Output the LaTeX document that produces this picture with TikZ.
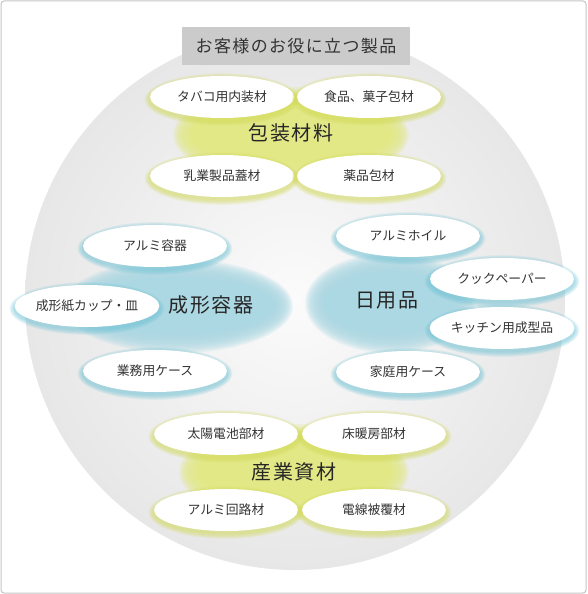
\documentclass[tikz,border=0pt]{standalone}
\usepackage{fontspec}
\newfontfamily\jp{Noto Sans CJK JP}
\newfontfamily\jpwide[LetterSpace=8]{Noto Sans CJK JP}
\usetikzlibrary{shapes.geometric}
\definecolor{framegray}{HTML}{C4C4C4}
\definecolor{titlegray}{HTML}{CBCBCB}
\definecolor{textdark}{HTML}{333333}
\definecolor{titledark}{HTML}{262626}
\definecolor{blobyellow}{HTML}{E2E886}
\definecolor{blobblue}{HTML}{ACD8E3}
\definecolor{glowyellow}{HTML}{D2DA55}
\definecolor{glowblue}{HTML}{6CC2D5}
\definecolor{circout}{HTML}{E7E7E7}
\definecolor{circin}{HTML}{FBFBFB}
\newcommand\softblob[5]{%
  \foreach \gi in {0,...,11}{%
    \fill[#5, opacity=0.2] (#1,#2) ellipse [x radius={#3pt-\gi*1.5pt}, y radius={#4pt-\gi*1.5pt}];}%
  \fill[#5] (#1,#2) ellipse [x radius={#3pt-18pt}, y radius={#4pt-18pt}];%
}
\newcommand\itemnode[5]{%
  \foreach \gi in {1,...,6}{%
    \fill[#4, opacity=0.12] (#2,#3+2.5) ellipse [x radius={72pt+\gi*0.9pt}, y radius={21pt+\gi*0.9pt}];}%
  \node[itembox] (#1) at (#2,#3) {#5};%
}
\begin{document}
\begin{tikzpicture}[x=1pt,y=-1pt,
  itembox/.style={ellipse, fill=white, minimum width=144pt, minimum height=42pt,
    inner sep=0pt, text=textdark, font=\jp\fontsize{12.8}{15}\selectfont},
  grouptitle/.style={inner sep=0pt, text=titledark, font=\jpwide\fontsize{20}{24}\selectfont},
  headbox/.style={rectangle, fill=titlegray, minimum width=228pt, minimum height=38pt,
    inner sep=0pt, text=textdark, font=\jpwide\fontsize{17}{20}\selectfont}]
\useasboundingbox (0,0) rectangle (587,594);
% background circle
\shade[inner color=circin, outer color=circout] (295,300) circle [radius=270pt];
% soft coloured blobs
\softblob{291}{135}{118}{48}{blobyellow}
\softblob{178}{306}{115}{47}{blobblue}
\softblob{390}{303}{85}{50}{blobblue}
\softblob{294}{472}{115}{48}{blobyellow}
% group titles
\node[grouptitle] (pkg) at (291,133) {包装材料};
\node[grouptitle] (mold) at (211,305) {成形容器};
\node[grouptitle] (daily) at (387,300) {日用品};
\node[grouptitle] (ind) at (294,472) {産業資材};
% packaging
\itemnode{pkgA}{222}{97}{glowyellow}{タバコ用内装材}
\itemnode{pkgB}{369}{97}{glowyellow}{食品、菓子包材}
\itemnode{pkgC}{222}{176}{glowyellow}{乳業製品蓋材}
\itemnode{pkgD}{369}{176}{glowyellow}{薬品包材}
% molded containers
\itemnode{moldA}{155}{246}{glowblue}{アルミ容器}
\itemnode{moldB}{87}{306}{glowblue}{成形紙カップ・皿}
\itemnode{moldC}{155}{371}{glowblue}{業務用ケース}
% daily goods
\itemnode{dailyA}{408}{236}{glowblue}{アルミホイル}
\itemnode{dailyB}{502}{279}{glowblue}{クックペーパー}
\itemnode{dailyC}{502}{328}{glowblue}{キッチン用成型品}
\itemnode{dailyD}{408}{372}{glowblue}{家庭用ケース}
% industrial
\itemnode{indA}{226}{434}{glowyellow}{太陽電池部材}
\itemnode{indB}{374}{434}{glowyellow}{床暖房部材}
\itemnode{indC}{226}{510}{glowyellow}{アルミ回路材}
\itemnode{indD}{374}{510}{glowyellow}{電線被覆材}
% heading
\node[headbox] (head) at (296,46) {お客様のお役に立つ製品};
% frame
\draw[framegray, line width=1pt, rounded corners=3pt] (1,1) rectangle (586,593);
\end{tikzpicture}
\end{document}
